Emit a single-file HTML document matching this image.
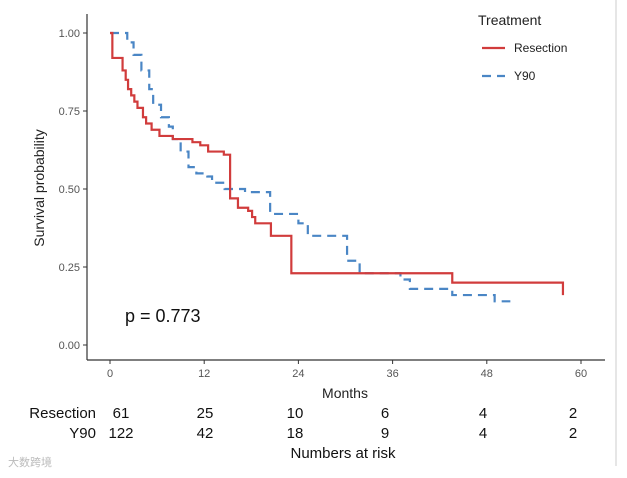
<!DOCTYPE html>
<html><head><meta charset="utf-8"><style>
body{margin:0;background:#fff;font-family:"Liberation Sans",sans-serif;}
svg text{font-family:"Liberation Sans","Noto Sans CJK SC",sans-serif;}
</style></head><body>
<svg id="c" width="627" height="473" xmlns="http://www.w3.org/2000/svg">
<line x1="616" y1="0" x2="616" y2="466" stroke="#ccc" stroke-width="1"/>
<g id="plot"></g>
</svg>
<script>
const xTicks=[0,12,24,36,48,60];
const yTicks=[0,0.25,0.5,0.75,1.0];
const yTickLabels=["0.00","0.25","0.50","0.75","1.00"];
const resTimes=[0,0.3,1.6,2,2.3,2.7,3.1,3.5,4.2,4.6,5.3,6.3,8,10.5,11.5,12.5,14.5,15.3,16.3,17.6,18.1,18.5,20.5,23.1,43.6,57.7];
const resSurv=[1,0.92,0.88,0.85,0.82,0.80,0.78,0.76,0.73,0.71,0.69,0.67,0.66,0.65,0.64,0.62,0.61,0.47,0.44,0.43,0.41,0.39,0.35,0.23,0.20,0.16];
const resEnd=57.7;
const y90Times=[0,2.2,3,4,5,5.5,6.5,7.5,8,9,10,11,12.4,13,14.6,17.2,20.4,24,25.2,30.2,31.8,37,38.2,43.6,49];
const y90Surv=[1,0.97,0.93,0.88,0.82,0.77,0.73,0.70,0.66,0.62,0.57,0.55,0.54,0.52,0.50,0.49,0.42,0.39,0.35,0.27,0.23,0.21,0.18,0.16,0.14];
const y90End=51;
const riskRes=[61,25,10,6,4,2];
const riskY90=[122,42,18,9,4,2];
const riskX=[121,205,295,385,483,573];
const NS="http://www.w3.org/2000/svg";
const g=document.getElementById('plot');
const X=t=>110+t*(471/60);
const Y=s=>345-s*312;
function mk(tag,attrs,txt){const e=document.createElementNS(NS,tag);for(const k in attrs)e.setAttribute(k,attrs[k]);if(txt!==undefined)e.textContent=txt;g.appendChild(e);return e;}
let e;
e=mk('line',{x1:87,y1:14,x2:87,y2:360,stroke:'#333','stroke-width':1.2});


e=mk('line',{x1:87,y1:360,x2:605,y2:360,stroke:'#333','stroke-width':1.2});


yTicks.forEach((v,i)=>{
 e=mk('line',{x1:83,y1:Y(v),x2:87,y2:Y(v),stroke:'#333'});
 
 
 e=mk('text',{x:80,y:Y(v)+4,'text-anchor':'end','font-size':11,fill:'#555'},yTickLabels[i]);
 
 
});
xTicks.forEach(v=>{
 e=mk('line',{x1:X(v),y1:360,x2:X(v),y2:364,stroke:'#333'});
 
 
 e=mk('text',{x:X(v),y:377,'text-anchor':'middle','font-size':11,fill:'#555'},String(v));
 
 
});
function stepPath(ts,ss,end){let d=`M${X(ts[0])},${Y(ss[0])}`;for(let i=1;i<ts.length;i++){d+=` H${X(ts[i])} V${Y(ss[i])}`;}d+=` H${X(end)}`;return d;}
e=mk('path',{d:stepPath(y90Times,y90Surv,y90End),fill:'none',stroke:'#4a86c5','stroke-width':2.2,'stroke-dasharray':'9,6'});


e=mk('path',{d:stepPath(resTimes,resSurv,resEnd)+` V${Y(resSurv[resSurv.length-1])}`,fill:'none',stroke:'#d13c3c','stroke-width':2.2});


e=mk('text',{x:125,y:322,'font-size':18,fill:'#111'},'p = 0.773');


e=mk('text',{x:44,y:188,'font-size':14,fill:'#222','text-anchor':'middle',transform:'rotate(-90 44 188)'},'Survival probability');


e=mk('text',{x:345,y:398,'font-size':14,fill:'#222','text-anchor':'middle'},'Months');


e=mk('text',{x:478,y:25,'font-size':14,fill:'#222'},'Treatment');


e=mk('line',{x1:482,y1:48,x2:505,y2:48,stroke:'#d13c3c','stroke-width':2.2});


e=mk('text',{x:514,y:52,'font-size':12,fill:'#222'},'Resection');


e=mk('line',{x1:482,y1:76,x2:505,y2:76,stroke:'#4a86c5','stroke-width':2.2,'stroke-dasharray':'9,6'});


e=mk('text',{x:514,y:80,'font-size':12,fill:'#222'},'Y90');


e=mk('text',{x:96,y:418,'font-size':15,fill:'#111','text-anchor':'end'},'Resection');


e=mk('text',{x:96,y:438,'font-size':15,fill:'#111','text-anchor':'end'},'Y90');


riskRes.forEach((v,i)=>{
 e=mk('text',{x:riskX[i],y:418,'font-size':15,fill:'#111','text-anchor':'middle'},String(v));
 
 
});
riskY90.forEach((v,i)=>{
 e=mk('text',{x:riskX[i],y:438,'font-size':15,fill:'#111','text-anchor':'middle'},String(v));
 
 
});
e=mk('text',{x:343,y:458,'font-size':15,fill:'#111','text-anchor':'middle'},'Numbers at risk');


e=mk('text',{x:8,y:466,'font-size':11,fill:'#bbb'},'大数跨境');


</script>
</body></html>
